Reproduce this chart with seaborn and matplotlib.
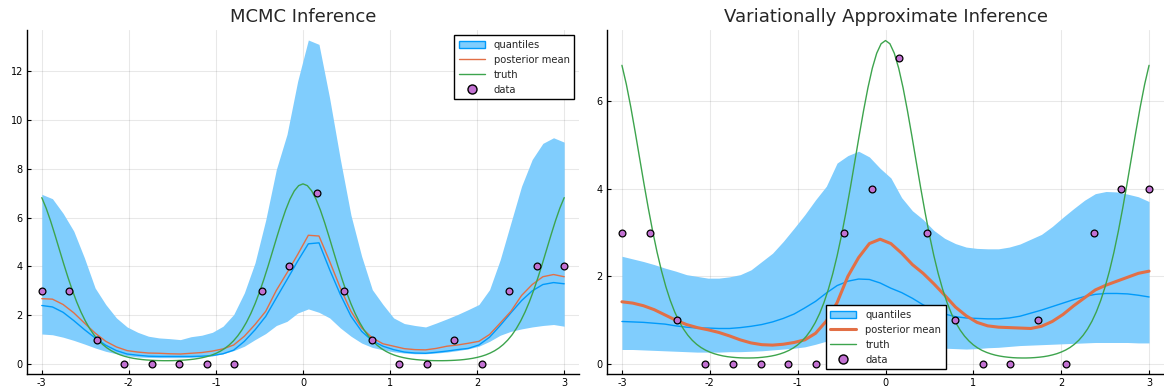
import numpy as np
import matplotlib
matplotlib.use("Agg")
import matplotlib.pyplot as plt
import seaborn as sns
from matplotlib.patches import Patch
from matplotlib.lines import Line2D

# ---------------- data ----------------
grid_x = np.linspace(-3, 3, 50)
data_x = np.linspace(-3, 3, 20)
data_y = [3, 3, 1, 0, 0, 0, 0, 0, 3, 4, 7, 3, 1, 0, 0, 1, 0, 3, 4, 4]

# truth curve, read at x = -3.00, -2.95, ..., -0.05 (mirror-symmetric about 0)
truth_x = np.linspace(-3, 3, 121)
truth_half = [6.823, 6.391, 5.877, 5.309, 4.717, 4.126, 3.559, 3.031, 2.552, 2.130,
              1.764, 1.452, 1.191, 0.976, 0.799, 0.656, 0.541, 0.449, 0.375, 0.317,
              0.271, 0.234, 0.206, 0.183, 0.166, 0.154, 0.145, 0.139, 0.136, 0.136,
              0.138, 0.143, 0.152, 0.164, 0.180, 0.201, 0.229, 0.264, 0.308, 0.364,
              0.435, 0.524, 0.635, 0.773, 0.943, 1.152, 1.405, 1.707, 2.064, 2.477,
              2.946, 3.467, 4.028, 4.617, 5.211, 5.784, 6.310, 6.758, 7.100, 7.316]
truth_peak = [7.389]
truth_y = truth_half + truth_peak + truth_half[::-1]

# MCMC panel
mcmc_upper = [6.96, 6.78, 6.18, 5.45, 4.35, 3.12, 2.44, 1.89, 1.52, 1.30,
              1.14, 1.07, 1.04, 1.00, 1.12, 1.18, 1.30, 1.55, 2.03, 2.92,
              4.15, 5.90, 7.98, 9.42, 11.6, 13.29, 13.11, 10.9, 8.4, 6.1,
              4.42, 3.05, 2.44, 1.89, 1.66, 1.58, 1.52, 1.68, 1.85, 2.03,
              2.23, 2.44, 3.05, 4.28, 5.79, 7.29, 8.39, 9.05, 9.28, 9.10]
mcmc_lower = [1.23, 1.20, 1.10, 0.97, 0.82, 0.66, 0.52, 0.42, 0.34, 0.29,
              0.27, 0.26, 0.26, 0.26, 0.27, 0.29, 0.33, 0.42, 0.55, 0.73,
              1.00, 1.25, 1.58, 1.75, 2.09, 2.26, 2.12, 1.89, 1.48, 1.14,
              0.86, 0.68, 0.58, 0.50, 0.45, 0.42, 0.42, 0.45, 0.49, 0.55,
              0.62, 0.73, 0.93, 1.18, 1.34, 1.44, 1.52, 1.58, 1.62, 1.55]
mcmc_median = [2.40, 2.34, 2.12, 1.78, 1.41, 1.07, 0.77, 0.55, 0.41, 0.36,
               0.32, 0.31, 0.31, 0.31, 0.31, 0.32, 0.35, 0.42, 0.57, 0.93,
               1.40, 1.95, 2.71, 3.46, 4.22, 4.93, 4.97, 3.87, 2.85, 1.96,
               1.34, 0.95, 0.73, 0.59, 0.49, 0.45, 0.44, 0.48, 0.53, 0.59,
               0.64, 0.78, 1.10, 1.58, 2.10, 2.60, 3.00, 3.26, 3.34, 3.29]
mcmc_mean = [2.68, 2.66, 2.44, 2.10, 1.68, 1.27, 0.93, 0.70, 0.55, 0.49,
             0.45, 0.44, 0.42, 0.41, 0.44, 0.47, 0.53, 0.62, 0.78, 1.14,
             1.62, 2.16, 3.02, 3.74, 4.49, 5.28, 5.25, 4.21, 3.12, 2.16,
             1.48, 1.07, 0.83, 0.73, 0.63, 0.59, 0.58, 0.64, 0.73, 0.78,
             0.85, 0.93, 1.21, 1.68, 2.16, 2.81, 3.26, 3.58, 3.67, 3.58]

# Variational panel
vi_upper = [2.46, 2.40, 2.34, 2.27, 2.19, 2.12, 2.04, 2.00, 1.96, 1.96,
            1.99, 2.04, 2.15, 2.34, 2.53, 2.80, 3.10, 3.41, 3.75, 4.06,
            4.59, 4.76, 4.86, 4.73, 4.47, 4.25, 3.80, 3.50, 3.30, 3.05,
            2.87, 2.75, 2.67, 2.64, 2.63, 2.63, 2.67, 2.74, 2.85, 2.96,
            3.14, 3.35, 3.55, 3.74, 3.89, 3.94, 3.93, 3.88, 3.82, 3.71]
vi_lower = [0.33, 0.33, 0.32, 0.31, 0.30, 0.29, 0.28, 0.27, 0.27, 0.27,
            0.28, 0.28, 0.29, 0.30, 0.32, 0.34, 0.36, 0.39, 0.45, 0.52,
            0.58, 0.60, 0.60, 0.58, 0.55, 0.50, 0.46, 0.42, 0.39, 0.37,
            0.36, 0.35, 0.34, 0.35, 0.37, 0.38, 0.40, 0.42, 0.43, 0.44,
            0.45, 0.46, 0.47, 0.48, 0.49, 0.49, 0.49, 0.49, 0.48, 0.48]
vi_median = [0.97, 0.96, 0.95, 0.93, 0.91, 0.87, 0.84, 0.82, 0.82, 0.81,
             0.81, 0.83, 0.86, 0.90, 0.96, 1.04, 1.14, 1.28, 1.43, 1.62,
             1.79, 1.89, 1.94, 1.93, 1.85, 1.73, 1.63, 1.50, 1.35, 1.23,
             1.14, 1.08, 1.05, 1.04, 1.03, 1.03, 1.05, 1.09, 1.16, 1.23,
             1.31, 1.39, 1.47, 1.54, 1.59, 1.61, 1.61, 1.60, 1.57, 1.53]
vi_mean = [1.42, 1.39, 1.33, 1.24, 1.12, 1.00, 0.90, 0.83, 0.78, 0.72,
           0.64, 0.55, 0.48, 0.44, 0.43, 0.45, 0.49, 0.55, 0.70, 0.98,
           1.40, 2.00, 2.43, 2.75, 2.85, 2.75, 2.53, 2.27, 2.07, 1.83,
           1.57, 1.30, 1.10, 0.95, 0.87, 0.84, 0.83, 0.82, 0.81, 0.86,
           0.97, 1.13, 1.33, 1.51, 1.69, 1.80, 1.89, 1.98, 2.07, 2.12]

titles = ["MCMC Inference", "Variationally Approximate Inference"]
legend_labels = ["quantiles", "posterior mean", "truth", "data"]
x_ticks = [-3, -2, -1, 0, 1, 2, 3]

# ---------------- style ----------------
sns.set_theme(style="white")
plt.rcParams['font.family'] = ['DejaVu Sans']

C_BLUE = "#009AFA"
C_FILL = "#80CDFD"
C_ORANGE = "#E26F46"
C_GREEN = "#3DA44D"
C_PURPLE = "#C271D2"

W, H = 1164, 390
fig = plt.figure(figsize=(W / 100, H / 100), dpi=100)
ax1 = fig.add_axes([27 / W, 16 / H, 552 / W, 344 / H])
ax2 = fig.add_axes([607 / W, 16 / H, 557 / W, 344 / H])


def draw(ax, upper, lower, median, mean, mean_lw, title, ylim, yticks):
    ax.fill_between(grid_x, lower, upper, color=C_FILL, lw=0, zorder=1)
    sns.lineplot(x=grid_x, y=median, ax=ax, color=C_BLUE, lw=1.0, zorder=2,
                 legend=False, sort=False, estimator=None)
    sns.lineplot(x=grid_x, y=mean, ax=ax, color=C_ORANGE, lw=mean_lw, zorder=3,
                 legend=False, sort=False, estimator=None)
    sns.lineplot(x=truth_x, y=truth_y, ax=ax, color=C_GREEN, lw=1.0, zorder=4,
                 legend=False, sort=False, estimator=None)
    sns.scatterplot(x=data_x, y=data_y, ax=ax, color=C_PURPLE, s=24,
                    edgecolor="black", linewidth=0.9, zorder=5, legend=False)
    ax.set_xlim(-3.17, 3.17)
    ax.set_ylim(*ylim)
    ax.set_xticks(x_ticks)
    ax.set_xticklabels([str(t) for t in x_ticks])
    ax.set_yticks(yticks)
    ax.set_yticklabels([str(t) for t in yticks])
    ax.set_title(title, fontsize=13, pad=6)
    ax.grid(True, color="black", alpha=0.09, lw=0.8)
    ax.set_axisbelow(True)
    for s in ["top", "right"]:
        ax.spines[s].set_visible(False)
    for s in ["left", "bottom"]:
        ax.spines[s].set_color("black")
        ax.spines[s].set_linewidth(1.0)
    ax.tick_params(direction="in", length=3, width=0.8, labelsize=7,
                   colors="black", pad=3, left=True, bottom=True)
    ax.set_xlabel("")
    ax.set_ylabel("")
    handles = [
        Patch(facecolor=C_FILL, edgecolor=C_BLUE, linewidth=1.0),
        Line2D([0], [0], color=C_ORANGE, lw=mean_lw),
        Line2D([0], [0], color=C_GREEN, lw=1.0),
        Line2D([0], [0], color="none", marker="o", markersize=6.5,
               markerfacecolor=C_PURPLE, markeredgecolor="black", markeredgewidth=1.0),
    ]
    return handles


h1 = draw(ax1, mcmc_upper, mcmc_lower, mcmc_median, mcmc_mean, 1.0,
          titles[0], (-0.41, 13.7), [0, 2, 4, 6, 8, 10, 12])
h2 = draw(ax2, vi_upper, vi_lower, vi_median, vi_mean, 2.2,
          titles[1], (-0.23, 7.63), [0, 2, 4, 6])

leg_kw = dict(fontsize=7.2, frameon=True, fancybox=False, framealpha=1,
              edgecolor="black", borderaxespad=0, handlelength=2.6,
              handletextpad=0.9, labelspacing=0.5, borderpad=0.45)
l1 = ax1.legend(h1, legend_labels, loc="upper right",
                bbox_to_anchor=(0.991, 0.985), **leg_kw)
l2 = ax2.legend(h2, legend_labels, loc="lower right",
                bbox_to_anchor=(0.6086, 0.0145), **leg_kw)
for l in (l1, l2):
    l.get_frame().set_linewidth(1.0)
    l.set_zorder(10)

fig.savefig("out.png", dpi=100)
